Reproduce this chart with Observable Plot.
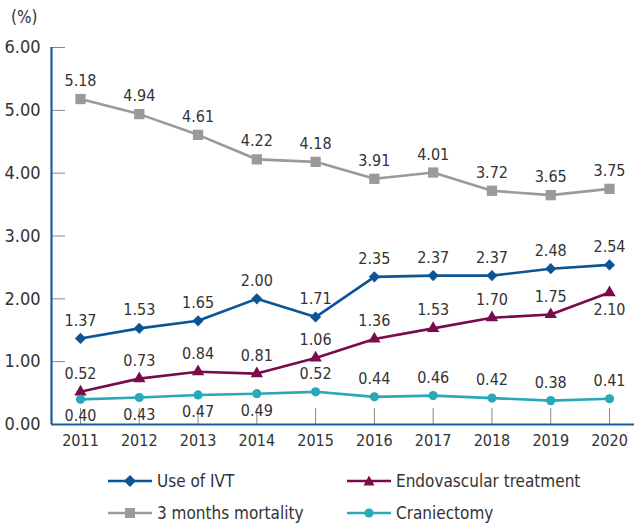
<!DOCTYPE html>
<html>
<head>
<meta charset="utf-8">
<script src="https://cdn.jsdelivr.net/npm/d3@7"></script>
<script src="https://cdn.jsdelivr.net/npm/@observablehq/plot@0.6"></script>
<style>
  html, body { margin: 0; padding: 0; background: #fff; }
  body { width: 634px; height: 524px; position: relative; overflow: hidden;
         font-family: "Liberation Sans Narrow", "DejaVu Sans Condensed", "Roboto", sans-serif; color: #333; }
  #unit { position: absolute; left: 11px; top: 7px; font-size: 17px; }
  #legend { position: absolute; left: 0; top: 463px; width: 634px; height: 61px; }
  .item { position: absolute; display: flex; align-items: center; font-size: 17px; color: #333; }
  .item svg { margin-right: 5px; }
</style>
</head>
<body>
<div id="unit">(%)</div>
<div id="chart"></div>
<div id="legend"></div>
<script>
const years = [2011, 2012, 2013, 2014, 2015, 2016, 2017, 2018, 2019, 2020];
const ivt       = [1.37, 1.53, 1.65, 2.00, 1.71, 2.35, 2.37, 2.37, 2.48, 2.54];
const endo      = [0.52, 0.73, 0.84, 0.81, 1.06, 1.36, 1.53, 1.70, 1.75, 2.10];
const mortality = [5.18, 4.94, 4.61, 4.22, 4.18, 3.91, 4.01, 3.72, 3.65, 3.75];
const cranie    = [0.40, 0.43, 0.47, 0.49, 0.52, 0.44, 0.46, 0.42, 0.38, 0.41];
const yTicks = [0, 1, 2, 3, 4, 5, 6];

const seriesDefs = [
  {name: "Use of IVT", values: ivt, color: "#0b5597", symbol: "diamond2", r: 5},
  {name: "Endovascular treatment", values: endo, color: "#7a0b4b", symbol: "triangle", r: 4.6},
  {name: "3 months mortality", values: mortality, color: "#9a9a9c", symbol: "square", r: 5.8},
  {name: "Craniectomy", values: cranie, color: "#2aa8b8", symbol: "circle", r: 4.6}
];
// label placement: below for craniectomy 2011-2014 and endovascular 2020
const belowLabel = {"Craniectomy": [2011, 2012, 2013, 2014], "Endovascular treatment": [2020]};

const rows = seriesDefs.flatMap(s => s.values.map((v, i) => ({
  series: s.name, year: years[i], value: v, color: s.color, symbol: s.symbol, r: s.r,
  below: (belowLabel[s.name] || []).includes(years[i])
})));

const font = '"Liberation Sans Narrow", "DejaVu Sans Condensed", "Roboto", sans-serif';

const marks = [
  Plot.axisY(yTicks, {anchor: "left", label: null, tickSize: -14, tickFormat: () => "", stroke: "#888", strokeWidth: 1}),
  Plot.axisY(yTicks, {anchor: "left", label: null, tickSize: 0, tickPadding: 11, tickFormat: d => d.toFixed(2), fontSize: 18, fill: "#333"}),
  Plot.axisX(years, {anchor: "bottom", label: null, tickSize: -16, tickFormat: () => "", stroke: "#888", strokeWidth: 1}),
  Plot.axisX(years, {anchor: "bottom", label: null, tickSize: 0, tickPadding: 10, tickFormat: d => String(d), fontSize: 16, fill: "#333"}),
  Plot.ruleY([0], {stroke: "#1a5c9c", strokeWidth: 2.2}),
  Plot.ruleX([years[0]], {dx: -29, stroke: "#1a5c9c", strokeWidth: 2.2})
];
for (const s of seriesDefs) {
  const d = rows.filter(r => r.series === s.name);
  marks.push(Plot.line(d, {x: "year", y: "value", stroke: s.color, strokeWidth: 2.6}));
  marks.push(Plot.dot(d, {x: "year", y: "value", fill: s.color, stroke: "none", symbol: () => s.symbol, r: s.r}));
  marks.push(Plot.text(d.filter(r => !r.below), {x: "year", y: "value", text: r => r.value.toFixed(2), dy: -18, fontSize: 16, fill: "#333"}));
  marks.push(Plot.text(d.filter(r => r.below), {x: "year", y: "value", text: r => r.value.toFixed(2), dy: 17, fontSize: 16, fill: "#333"}));
}

const chart = Plot.plot({
  width: 634,
  height: 465,
  marginLeft: 51,
  marginRight: 0,
  marginTop: 47,
  marginBottom: 41,
  x: {type: "linear", domain: [2011, 2020], insetLeft: 29, insetRight: 25, label: null},
  y: {domain: [0, 6], label: null},
  style: {fontFamily: font, background: "#fff", color: "#333", overflow: "visible"},
  marks
});
document.getElementById("chart").appendChild(chart);

// legend
const legend = document.getElementById("legend");
const positions = [[108, 16], [347, 16], [108, 48], [347, 48]];
const symPaths = {
  diamond2: "M22,2 L28,8 L22,14 L16,8 Z",
  triangle: "M22,2.5 L27.5,12.5 L16.5,12.5 Z",
  square: "M17,3 H27 V13 H17 Z"
};
seriesDefs.forEach((s, i) => {
  const [x, y] = positions[i];
  const div = document.createElement("div");
  div.className = "item";
  div.style.left = x + "px";
  div.style.top = (y - 8) + "px";
  const marker = s.symbol === "circle"
    ? `<circle cx="22" cy="8" r="4.6" fill="${s.color}"/>`
    : `<path d="${symPaths[s.symbol]}" fill="${s.color}"/>`;
  div.innerHTML = `<svg width="44" height="16" viewBox="0 0 44 16"><line x1="0" x2="44" y1="8" y2="8" stroke="${s.color}" stroke-width="2.6"/>${marker}</svg><span>${s.name}</span>`;
  legend.appendChild(div);
});
</script>
</body>
</html>
